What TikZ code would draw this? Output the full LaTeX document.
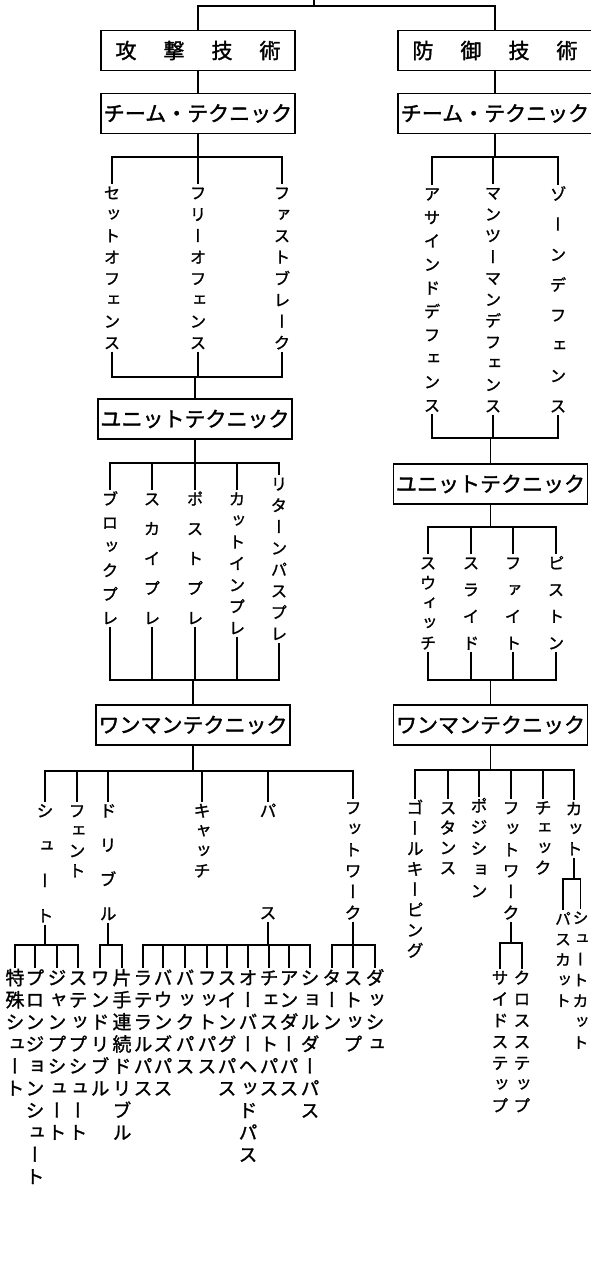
\documentclass[tikz,border=0pt]{standalone}
\usepackage{fontspec}
\newfontfamily\jpfont[RawFeature={embolden=1.6}]{Noto Sans CJK JP}
\newfontfamily\jptate[RawFeature=+vert, RawFeature={embolden=1.2}]{Noto Sans CJK JP}
\makeatletter
% stack the characters of #2 one under the other, #1 apart
\newcommand\tate[2]{\vbox{\baselineskip=#1\relax\lineskiplimit=-\maxdimen\lineskip=0pt\tate@next#2\@nil}}
\def\tate@next#1#2\@nil{%
  \hbox to 1em{\hss\vrule width 0pt height .88em depth .12em#1\hss}%
  \ifx\relax#2\relax\else\tate@next#2\@nil\fi}
\makeatother

\begin{document}
\begin{tikzpicture}[
    x=1pt, y=-1pt, line width=1.2pt,
    tech/.style={draw, minimum width=194pt, minimum height=40pt, inner sep=0pt,
      font=\jpfont\fontsize{21}{21}\selectfont}, % boxed technique
    tate/.style={anchor=north, inner sep=0pt, font=\jptate\fontsize{#1}{#1}\selectfont},
    tate/.default=16.5
]
\useasboundingbox (0,0) rectangle (590,1277);

% Top level
\coordinate (root) at (314,0);
\coordinate (bus0) at (0,6);
\node[tech] (atk) at (198,50.5) {攻\hspace{27pt}撃\hspace{27pt}技\hspace{27pt}術};
\node[tech] (dfn) at (495,50.5) {防\hspace{27pt}御\hspace{27pt}技\hspace{27pt}術};
\draw (root) -- (root |- bus0);
\draw (atk.north) |- (dfn.north |- bus0) -- (dfn.north);

% Team technique
\node[tech] (atkteam) at (198,113.5) {チーム・テクニック};
\node[tech] (dfnteam) at (495,113.5) {チーム・テクニック};
\draw (atk) -- (atkteam);
\draw (dfn) -- (dfnteam);

\coordinate (bus1) at (0,157);
\node[tate] (setoff)   at (112,184) {\tate{21.4pt}{セットオフェンス}};
\node[tate] (freeoff)  at (198,184) {\tate{21.4pt}{フリーオフェンス}};
\node[tate] (fastbrk)  at (282,184) {\tate{21.4pt}{ファストブレーク}};
\node[tate] (assign)   at (432,185) {\tate{23.5pt}{アサインドデフェンス}};
\node[tate] (mantoman) at (493,184) {\tate{21.3pt}{マンツーマンデフェンス}};
\node[tate] (zone)     at (558,185) {\tate{30.3pt}{ゾーンデフェンス}};
\draw (atkteam.south) -- (atkteam.south |- bus1);
\draw (setoff.north) |- (fastbrk.north |- bus1) -- (fastbrk.north);
\draw (freeoff.north) -- (freeoff.north |- bus1);
\draw (dfnteam.south) -- (dfnteam.south |- bus1);
\draw (assign.north) |- (zone.north |- bus1) -- (zone.north);
\draw (mantoman.north) -- (mantoman.north |- bus1);

% Unit technique
\coordinate (bus2a) at (0,377);
\coordinate (bus2d) at (0,438);
\node[tech] (atkunit) at (195,419) {ユニットテクニック};
\node[tech] (dfnunit) at (490.5,484) {ユニットテクニック};
\draw (setoff.south) |- (fastbrk.south |- bus2a) -- (fastbrk.south);
\draw (freeoff.south) -- (freeoff.south |- bus2a);
\draw (atkunit.north) -- (atkunit.north |- bus2a);
\draw (assign.south) |- (zone.south |- bus2d) -- (zone.south);
\draw (mantoman.south) -- (mantoman.south |- bus2d);
\draw (dfnunit.north) -- (dfnunit.north |- bus2d);

\coordinate (bus3a) at (0,463);
\coordinate (bus3d) at (0,527);
\node[tate] (block)  at (110,490) {\tate{23.8pt}{ブロックプレ}};
\node[tate] (sky)    at (152,490) {\tate{29.75pt}{スカイプレ}};
\node[tate] (post)   at (195,490) {\tate{29.75pt}{ポストプレ}};
\node[tate] (cutin)  at (237,490) {\tate{21.5pt}{カットインプレ}};
\node[tate] (return) at (279,475) {\tate{21.4pt}{リターンパスプレ}};
\node[tate] (switch) at (428,554) {\tate{20pt}{スウィッチ}};
\node[tate] (slide)  at (471,554) {\tate{26.7pt}{スライド}};
\node[tate] (fight)  at (513,554) {\tate{26.7pt}{ファイト}};
\node[tate] (piston) at (556,554) {\tate{26.7pt}{ピストン}};
\draw (atkunit.south) -- (atkunit.south |- bus3a);
\draw (block.north) |- (return.north |- bus3a) -- (return.north);
\foreach \nm in {sky,post,cutin} \draw (\nm.north) -- (\nm.north |- bus3a);
\draw (dfnunit.south) -- (dfnunit.south |- bus3d);
\draw (switch.north) |- (piston.north |- bus3d) -- (piston.north);
\foreach \nm in {slide,fight} \draw (\nm.north) -- (\nm.north |- bus3d);

% One-man technique
\coordinate (bus4) at (0,680);
\node[tech] (atkone) at (193,725) {ワンマンテクニック};
\node[tech] (dfnone) at (490.5,725) {ワンマンテクニック};
\draw (block.south) |- (return.south |- bus4) -- (return.south);
\foreach \nm in {sky,post,cutin} \draw (\nm.south) -- (\nm.south |- bus4);
\draw (atkone.north) -- (atkone.north |- bus4);
\draw (switch.south) |- (piston.south |- bus4) -- (piston.south);
\foreach \nm in {slide,fight} \draw (\nm.south) -- (\nm.south |- bus4);
\draw (dfnone.north) -- (dfnone.north |- bus4);

\coordinate (bus5a) at (0,771);
\coordinate (bus5d) at (0,770);
\node[tate=17] (shoot)    at (45,801.5)  {\tate{35pt}{シュート}};
\node[tate=17] (feint)    at (77,801.5)  {\tate{20pt}{フェント}};
\node[tate=17] (dribble)  at (108,801.5) {\tate{34.3pt}{ドリブル}};
\node[tate=17] (catch)    at (202,801.5) {\tate{20pt}{キャッチ}};
\node[tate=17] (pass)     at (268,801.5) {\tate{102pt}{パス}};
\node[tate=17] (footwork) at (353,798.5) {\tate{21pt}{フットワーク}};
\node[tate=17] (goalkeep) at (415,798.5) {\tate{20.4pt}{ゴールキーピング}};
\node[tate=17] (stance)   at (448,798.5) {\tate{20pt}{スタンス}};
\node[tate=17] (position) at (479,796.5) {\tate{21.3pt}{ポジション}};
\node[tate=17] (dfoot)    at (511,798.5) {\tate{21pt}{フットワーク}};
\node[tate=17] (check)    at (543,798.5) {\tate{20pt}{チェック}};
\node[tate=17] (cut)      at (574,799.5) {\tate{20pt}{カット}};
\draw (atkone.south) -- (atkone.south |- bus5a);
\draw (shoot.north) |- (footwork.north |- bus5a) -- (footwork.north);
\foreach \nm in {feint,dribble,catch,pass} \draw (\nm.north) -- (\nm.north |- bus5a);
\draw (dfnone.south) -- (dfnone.south |- bus5d);
\draw (goalkeep.north) |- (cut.north |- bus5d) -- (cut.north);
\foreach \nm in {stance,position,dfoot,check} \draw (\nm.north) -- (\nm.north |- bus5d);

% Individual skills
\coordinate (bus6a) at (0,945);
\coordinate (bus6c) at (0,879);
\coordinate (bus6d) at (0,943);
\node[tate=19] (spshoot)   at (15,967.5)  {\tate{22.1pt}{特殊シュート}};
\node[tate=19] (plongeon)  at (35,967.5)  {\tate{22.1pt}{プロンジョンシュート}};
\node[tate=19] (jumpshoot) at (57,967.5)  {\tate{22.1pt}{ジャンプシュート}};
\node[tate=19] (stepshoot) at (78,967.5)  {\tate{22.1pt}{ステップシュート}};
\node[tate=19] (onedrib)   at (100,967.5) {\tate{22.1pt}{ワンドリブル}};
\node[tate=19] (onehand)   at (122,967.5) {\tate{22.1pt}{片手連続ドリブル}};
\node[tate=19] (lateral)   at (143,967.5) {\tate{22.1pt}{ラテラルパス}};
\node[tate=19] (bounce)    at (163,967.5) {\tate{22.1pt}{バウンズパス}};
\node[tate=19] (back)      at (185,967.5) {\tate{22.1pt}{バックパス}};
\node[tate=19] (footpass)  at (207,967.5) {\tate{22.1pt}{フットパス}};
\node[tate=19] (swing)     at (227,967.5) {\tate{22.1pt}{スイングパス}};
\node[tate=19] (overhead)  at (248,967.5) {\tate{22.1pt}{オーバーヘッドパス}};
\node[tate=19] (chest)     at (269,967.5) {\tate{22.1pt}{チェストパス}};
\node[tate=19] (under)     at (289,967.5) {\tate{22.1pt}{アンダーパス}};
\node[tate=19] (shoulder)  at (310,967.5) {\tate{22.1pt}{ショルダーパス}};
\node[tate=19] (turn)      at (332,967.5) {\tate{22.1pt}{ターン}};
\node[tate=19] (stop)      at (353,967.5) {\tate{22.1pt}{ストップ}};
\node[tate=19] (dash)      at (375,967.5) {\tate{22.1pt}{ダッシュ}};
\node[tate=17] (sidestep)  at (500,968.5) {\tate{21.3pt}{サイドステップ}};
\node[tate=17] (crossstep) at (522,968.5) {\tate{21.3pt}{クロスステップ}};
\node[tate=16] (passcut)   at (563,910) {\tate{20.5pt}{パスカット}};
\node[tate=16] (shootcut)  at (580.5,909) {\tate{20.8pt}{シュートカット}};

\draw (shoot.south) -- (shoot.south |- bus6a);
\draw (spshoot.north) |- (stepshoot.north |- bus6a) -- (stepshoot.north);
\foreach \nm in {plongeon,jumpshoot} \draw (\nm.north) -- (\nm.north |- bus6a);
\draw (dribble.south) -- (dribble.south |- bus6a);
\draw (onedrib.north) |- (onehand.north |- bus6a) -- (onehand.north);
\draw (pass.south) -- (pass.south |- bus6a);
\draw (lateral.north) |- (shoulder.north |- bus6a) -- (shoulder.north);
\foreach \nm in {bounce,back,footpass,swing,overhead,chest,under}
  \draw (\nm.north) -- (\nm.north |- bus6a);
\draw (footwork.south) -- (footwork.south |- bus6a);
\draw (turn.north) |- (dash.north |- bus6a) -- (dash.north);
\draw (stop.north) -- (stop.north |- bus6a);
\draw (dfoot.south) -- (dfoot.south |- bus6d);
\draw (sidestep.north) |- (crossstep.north |- bus6d) -- (crossstep.north);
\draw (cut.south) -- (cut.south |- bus6c);
\draw (passcut.north) |- (shootcut.north |- bus6c) -- (shootcut.north);
\end{tikzpicture}
\end{document}
